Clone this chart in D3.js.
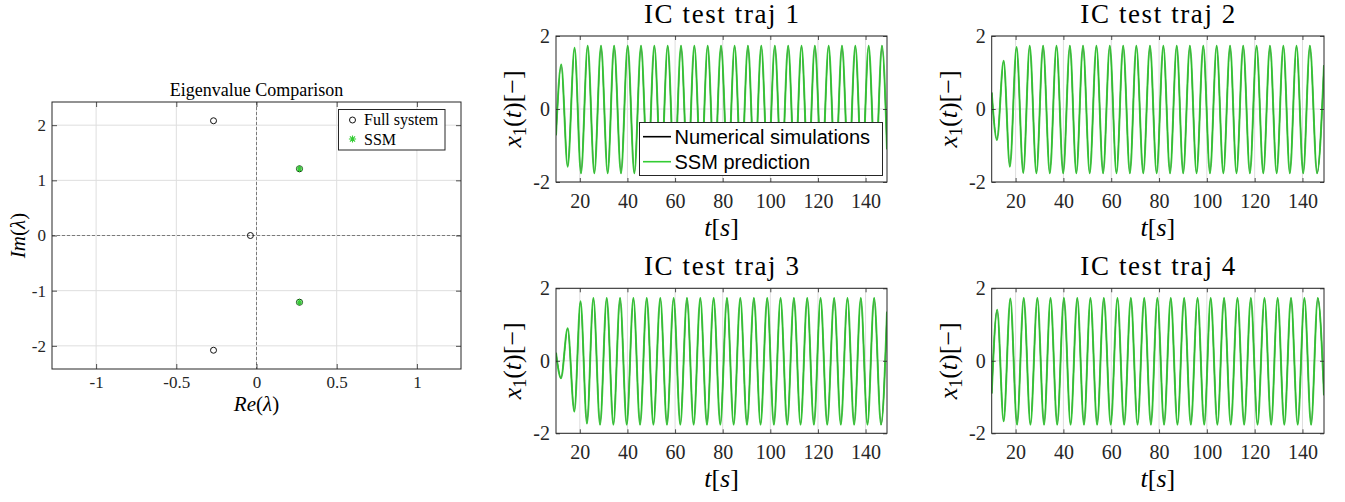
<!DOCTYPE html>
<html><head><meta charset="utf-8">
<script src="https://cdn.jsdelivr.net/npm/d3@7"></script>
<style>body{margin:0;background:#fff}</style>
</head><body>
<svg id="c" width="1345" height="502"></svg>
<script>
// ---------- data ----------
const eigFullRe = [-0.268, -0.268, -0.038, 0.268, 0.268];
const eigFullIm = [2.08, -2.08, 0, 1.21, -1.21];
const eigSSMRe = [0.268, 0.268];
const eigSSMIm = [1.21, -1.21];
const eigXTicks = [-1, -0.5, 0, 0.5, 1];
const eigYTicks = [-2, -1, 0, 1, 2];
const legendEig = ["Full system", "SSM"];

const timeTicks = [20, 40, 60, 80, 100, 120, 140];
const stateTicks = [-2, 0, 2];
const panelTitles = ["IC test traj 1", "IC test traj 2", "IC test traj 3", "IC test traj 4"];
const legendTraj = ["Numerical simulations", "SSM prediction"];

// extrema (t, x1); the simulation and the prediction overlap
const traj1 = [[10,-0.72],[12.2,1.22],[14.9,-1.58],[17.8,1.68],[20.5,-1.76],[23.3,1.73],[26.1,-1.76],[28.9,1.73],[31.7,-1.76],[34.4,1.73],[37.3,-1.76],[40.1,1.73],[42.9,-1.76],[45.7,1.73],[48.5,-1.76],[51.3,1.73],[54.1,-1.76],[56.9,1.73],[59.7,-1.76],[62.5,1.73],[65.3,-1.76],[68.1,1.73],[70.9,-1.76],[73.7,1.73],[76.5,-1.76],[79.3,1.73],[82.2,-1.76],[85.0,1.73],[87.8,-1.76],[90.6,1.73],[93.4,-1.76],[96.2,1.73],[99.0,-1.76],[101.9,1.73],[104.7,-1.76],[107.5,1.73],[110.3,-1.76],[113.1,1.73],[115.9,-1.76],[118.7,1.73],[121.6,-1.76],[124.5,1.73],[127.3,-1.76],[130.1,1.73],[132.9,-1.76],[135.7,1.73],[138.5,-1.76],[141.3,1.73],[144.1,-1.76],[146.9,1.73],[149,-1.1]];
const traj2 = [[10,0.45],[12.2,-0.85],[15.0,1.32],[17.6,-1.58],[20.4,1.70],[23.2,-1.75],[25.9,1.73],[28.7,-1.76],[31.5,1.73],[34.3,-1.76],[37.1,1.73],[39.9,-1.76],[42.7,1.73],[45.4,-1.76],[48.2,1.73],[51.0,-1.76],[53.8,1.73],[56.6,-1.76],[59.4,1.73],[62.2,-1.76],[65.0,1.73],[67.8,-1.76],[70.5,1.73],[73.4,-1.76],[76.2,1.73],[79.0,-1.76],[81.8,1.73],[84.6,-1.76],[87.4,1.73],[90.1,-1.76],[92.9,1.73],[95.7,-1.76],[98.5,1.73],[101.3,-1.76],[104.1,1.73],[106.9,-1.76],[109.7,1.73],[112.4,-1.76],[115.2,1.73],[118.0,-1.76],[120.8,1.73],[123.6,-1.76],[126.4,1.73],[129.2,-1.76],[132.0,1.73],[134.7,-1.76],[137.5,1.73],[140.3,-1.76],[143.1,1.73],[146.1,-1.76],[149,1.2]];
const traj3 = [[10,0.22],[12.1,-0.48],[14.9,0.9],[17.7,-1.4],[20.3,1.64],[23.0,-1.73],[25.7,1.73],[28.5,-1.76],[31.3,1.73],[34.1,-1.76],[36.9,1.73],[39.7,-1.76],[42.5,1.73],[45.3,-1.76],[48.1,1.73],[50.9,-1.76],[53.8,1.73],[56.6,-1.76],[59.4,1.73],[62.2,-1.76],[65.0,1.73],[67.8,-1.76],[70.6,1.73],[73.4,-1.76],[76.2,1.73],[79.0,-1.76],[81.8,1.73],[84.6,-1.76],[87.4,1.73],[90.2,-1.76],[93.1,1.73],[95.9,-1.76],[98.7,1.73],[101.5,-1.76],[104.3,1.73],[107.1,-1.76],[109.9,1.73],[112.7,-1.76],[115.5,1.73],[118.3,-1.76],[121.1,1.73],[123.9,-1.76],[126.8,1.73],[129.6,-1.76],[132.4,1.73],[135.2,-1.76],[138.0,1.73],[140.8,-1.76],[143.6,1.73],[146.5,-1.76],[149,1.35]];
const traj4 = [[10,-0.9],[12.3,1.41],[15.0,-1.67],[17.8,1.72],[20.6,-1.76],[23.4,1.73],[26.2,-1.76],[29.1,1.73],[31.9,-1.76],[34.6,1.73],[37.4,-1.76],[40.2,1.73],[43.0,-1.76],[45.8,1.73],[48.6,-1.76],[51.3,1.73],[54.1,-1.76],[56.9,1.73],[59.8,-1.76],[62.6,1.73],[65.4,-1.76],[68.2,1.73],[71.0,-1.76],[73.8,1.73],[76.6,-1.76],[79.3,1.73],[82.1,-1.76],[84.9,1.73],[87.7,-1.76],[90.5,1.73],[93.3,-1.76],[96.1,1.73],[98.9,-1.76],[101.6,1.73],[104.4,-1.76],[107.2,1.73],[110.0,-1.76],[112.8,1.73],[115.6,-1.76],[118.4,1.73],[121.2,-1.76],[124.1,1.73],[126.9,-1.76],[129.6,1.73],[132.4,-1.76],[135.2,1.73],[138.0,-1.76],[140.8,1.73],[143.6,-1.76],[146.4,1.73],[149,-0.95]];

// ---------- style ----------
const SERIF = '"Liberation Serif", "Times New Roman", serif';
const SANS = '"Liberation Sans", Arial, sans-serif';
const AX = '#262626';
const GRID = '#dedede';
const GREEN = '#33cc33';

const svg = d3.select('#c');

function styleAxis(g, size) {
  g.attr('font-family', SERIF).attr('font-size', size);
  g.select('.domain').remove();
  g.selectAll('.tick line').attr('stroke', AX).attr('stroke-width', 0.8);
  g.selectAll('.tick text').attr('fill', AX).attr('font-family', SERIF).attr('font-size', size);
}

function asteriskPath(s) {
  const k = s * 0.7071;
  return `M${-s},0L${s},0M0,${-s}L0,${s}M${-k},${-k}L${k},${k}M${-k},${k}L${k},${-k}`;
}

// ---------- eigenvalue panel ----------
(function () {
  const L = 52, R = 461, T = 102, B = 369;
  const ex = d3.scaleLinear().domain([-1.275, 1.275]).range([L, R]);
  const ey = d3.scaleLinear().domain([-2.42, 2.42]).range([B, T]);
  const g = svg.append('g');

  g.selectAll('.gx').data(eigXTicks).join('line')
    .attr('x1', d => ex(d)).attr('x2', d => ex(d)).attr('y1', T).attr('y2', B)
    .attr('stroke', GRID).attr('stroke-width', 1);
  g.selectAll('.gy').data(eigYTicks).join('line')
    .attr('y1', d => ey(d)).attr('y2', d => ey(d)).attr('x1', L).attr('x2', R)
    .attr('stroke', GRID).attr('stroke-width', 1);

  // dashed zero lines
  g.append('line').attr('x1', ex(0)).attr('x2', ex(0)).attr('y1', T).attr('y2', B)
    .attr('stroke', '#7a7a7a').attr('stroke-width', 1).attr('stroke-dasharray', '3,2');
  g.append('line').attr('y1', ey(0)).attr('y2', ey(0)).attr('x1', L).attr('x2', R)
    .attr('stroke', '#7a7a7a').attr('stroke-width', 1).attr('stroke-dasharray', '3,2');

  // markers
  g.selectAll('.full').data(eigFullRe).join('circle')
    .attr('cx', d => ex(d)).attr('cy', (d, i) => ey(eigFullIm[i])).attr('r', 3)
    .attr('fill', 'none').attr('stroke', '#111').attr('stroke-width', 1);
  g.selectAll('.ssm').data(eigSSMRe).join('path')
    .attr('transform', (d, i) => `translate(${ex(d)},${ey(eigSSMIm[i])})`)
    .attr('d', asteriskPath(3.6)).attr('stroke', GREEN).attr('stroke-width', 1.1).attr('fill', 'none');

  // axes
  const xb = g.append('g').attr('transform', `translate(0,${B})`)
    .call(d3.axisBottom(ex).tickValues(eigXTicks).tickSizeInner(-5).tickSizeOuter(0).tickPadding(7).tickFormat(d => String(d)));
  styleAxis(xb, 17);
  const xt = g.append('g').attr('transform', `translate(0,${T})`)
    .call(d3.axisTop(ex).tickValues(eigXTicks).tickSizeInner(-5).tickSizeOuter(0).tickFormat(''));
  styleAxis(xt, 17);
  const yl = g.append('g').attr('transform', `translate(${L},0)`)
    .call(d3.axisLeft(ey).tickValues(eigYTicks).tickSizeInner(-5).tickSizeOuter(0).tickPadding(6).tickFormat(d => String(d)));
  styleAxis(yl, 17);
  const yr = g.append('g').attr('transform', `translate(${R},0)`)
    .call(d3.axisRight(ey).tickValues(eigYTicks).tickSizeInner(-5).tickSizeOuter(0).tickFormat(''));
  styleAxis(yr, 17);
  g.append('rect').attr('x', L).attr('y', T).attr('width', R - L).attr('height', B - T)
    .attr('fill', 'none').attr('stroke', AX).attr('stroke-width', 1);

  // title and labels
  g.append('text').attr('x', (L + R) / 2).attr('y', 96).attr('text-anchor', 'middle')
    .attr('font-family', SERIF).attr('font-size', 18).attr('fill', '#000').text('Eigenvalue Comparison');
  const xl = g.append('text').attr('x', (L + R) / 2).attr('y', 411).attr('text-anchor', 'middle')
    .attr('font-family', SERIF).attr('font-size', 21).attr('fill', '#000');
  xl.append('tspan').attr('font-style', 'italic').text('Re');
  xl.append('tspan').text('(');
  xl.append('tspan').attr('font-style', 'italic').text('λ');
  xl.append('tspan').text(')');
  const ylab = g.append('text').attr('transform', `translate(25,${(T + B) / 2}) rotate(-90)`).attr('text-anchor', 'middle')
    .attr('font-family', SERIF).attr('font-size', 21).attr('fill', '#000');
  ylab.append('tspan').attr('font-style', 'italic').text('Im');
  ylab.append('tspan').text('(');
  ylab.append('tspan').attr('font-style', 'italic').text('λ');
  ylab.append('tspan').text(')');

  // legend
  const lg = g.append('g');
  lg.append('rect').attr('x', 338.5).attr('y', 109.5).attr('width', 106.5).attr('height', 40.5)
    .attr('fill', '#fff').attr('stroke', AX).attr('stroke-width', 1);
  lg.append('circle').attr('cx', 352.5).attr('cy', 120).attr('r', 3)
    .attr('fill', 'none').attr('stroke', '#111').attr('stroke-width', 1);
  lg.append('path').attr('transform', 'translate(352.5,139)').attr('d', asteriskPath(3.6))
    .attr('stroke', GREEN).attr('stroke-width', 1.1).attr('fill', 'none');
  lg.selectAll('.lt').data(legendEig).join('text')
    .attr('x', 364).attr('y', (d, i) => 125 + i * 19.5)
    .attr('font-family', SERIF).attr('font-size', 16).attr('fill', '#000').text(d => d);
})();

// ---------- trajectory panels ----------
const panels = [
  { data: traj1, title: panelTitles[0], L: 556, R: 887, T: 36, B: 182, legend: true },
  { data: traj2, title: panelTitles[1], L: 991.7, R: 1324, T: 36, B: 182, legend: false },
  { data: traj3, title: panelTitles[2], L: 556, R: 887, T: 288.3, B: 433.3, legend: false },
  { data: traj4, title: panelTitles[3], L: 991.7, R: 1324, T: 288.3, B: 433.3, legend: false }
];

panels.forEach((p, idx) => {
  const x = d3.scaleLinear().domain([10, 149]).range([p.L, p.R]);
  const y = d3.scaleLinear().domain([-2, 2]).range([p.B, p.T]);
  const g = svg.append('g');
  const clipId = 'clip' + idx;
  g.append('clipPath').attr('id', clipId).append('rect')
    .attr('x', p.L).attr('y', p.T).attr('width', p.R - p.L).attr('height', p.B - p.T);

  // grid
  g.selectAll('.gx').data(timeTicks).join('line')
    .attr('x1', d => x(d)).attr('x2', d => x(d)).attr('y1', p.T).attr('y2', p.B)
    .attr('stroke', GRID).attr('stroke-width', 1);
  g.selectAll('.gy').data(stateTicks).join('line')
    .attr('y1', d => y(d)).attr('y2', d => y(d)).attr('x1', p.L).attr('x2', p.R)
    .attr('stroke', GRID).attr('stroke-width', 1);

  const line = d3.line().x(d => x(d[0])).y(d => y(d[1])).curve(d3.curveMonotoneX);
  const lines = g.append('g').attr('clip-path', `url(#${clipId})`);
  lines.append('path').attr('d', line(p.data)).attr('fill', 'none')
    .attr('stroke', '#000').attr('stroke-width', 1.1);
  lines.append('path').attr('d', line(p.data)).attr('fill', 'none')
    .attr('stroke', GREEN).attr('stroke-width', 2).attr('stroke-opacity', 0.9);

  // axes
  const xb = g.append('g').attr('transform', `translate(0,${p.B})`)
    .call(d3.axisBottom(x).tickValues(timeTicks).tickSizeInner(-4).tickSizeOuter(0).tickPadding(12).tickFormat(d => String(d)));
  styleAxis(xb, 20);
  const xt = g.append('g').attr('transform', `translate(0,${p.T})`)
    .call(d3.axisTop(x).tickValues(timeTicks).tickSizeInner(-4).tickSizeOuter(0).tickFormat(''));
  styleAxis(xt, 20);
  const yl = g.append('g').attr('transform', `translate(${p.L},0)`)
    .call(d3.axisLeft(y).tickValues(stateTicks).tickSizeInner(-4).tickSizeOuter(0).tickPadding(6).tickFormat(d => String(d)));
  styleAxis(yl, 20);
  const yr = g.append('g').attr('transform', `translate(${p.R},0)`)
    .call(d3.axisRight(y).tickValues(stateTicks).tickSizeInner(-4).tickSizeOuter(0).tickFormat(''));
  styleAxis(yr, 20);
  g.append('rect').attr('x', p.L).attr('y', p.T).attr('width', p.R - p.L).attr('height', p.B - p.T)
    .attr('fill', 'none').attr('stroke', AX).attr('stroke-width', 1);

  // title
  g.append('text').attr('x', (p.L + p.R) / 2).attr('y', p.T - 13).attr('text-anchor', 'middle')
    .attr('font-family', SERIF).attr('font-size', 27).attr('fill', '#000')
    .attr('textLength', 155).attr('lengthAdjust', 'spacing').text(p.title);

  // x label t[s]
  const xl = g.append('text').attr('x', (p.L + p.R) / 2).attr('y', p.B + 53.5).attr('text-anchor', 'middle')
    .attr('font-family', SERIF).attr('font-size', 26).attr('fill', '#000');
  xl.append('tspan').attr('font-style', 'italic').text('t');
  xl.append('tspan').text('[');
  xl.append('tspan').attr('font-style', 'italic').text('s');
  xl.append('tspan').text(']');

  // y label x1(t)[-]
  const ylab = g.append('text').attr('transform', `translate(${p.L - 35},${(p.T + p.B) / 2}) rotate(-90)`)
    .attr('text-anchor', 'middle').attr('font-family', SERIF).attr('font-size', 26).attr('fill', '#000');
  ylab.append('tspan').attr('font-style', 'italic').text('x');
  ylab.append('tspan').attr('font-size', 18).attr('dy', 5).text('1');
  ylab.append('tspan').attr('dy', -5).text('(');
  ylab.append('tspan').attr('font-style', 'italic').text('t');
  ylab.append('tspan').text(')[−]');

  if (p.legend) {
    const lg = g.append('g');
    lg.append('rect').attr('x', 639.5).attr('y', 122.5).attr('width', 243).attr('height', 53)
      .attr('fill', '#fff').attr('stroke', AX).attr('stroke-width', 1);
    const cols = ['#000', GREEN];
    legendTraj.forEach((t, i) => {
      const cy = 136.7 + i * 25;
      lg.append('line').attr('x1', 643).attr('x2', 671).attr('y1', cy).attr('y2', cy)
        .attr('stroke', cols[i]).attr('stroke-width', 1.6);
      lg.append('text').attr('x', 674.5).attr('y', cy + 7.2)
        .attr('font-family', SANS).attr('font-size', 20).attr('fill', '#000').text(t);
    });
  }
});
</script>
</body></html>
